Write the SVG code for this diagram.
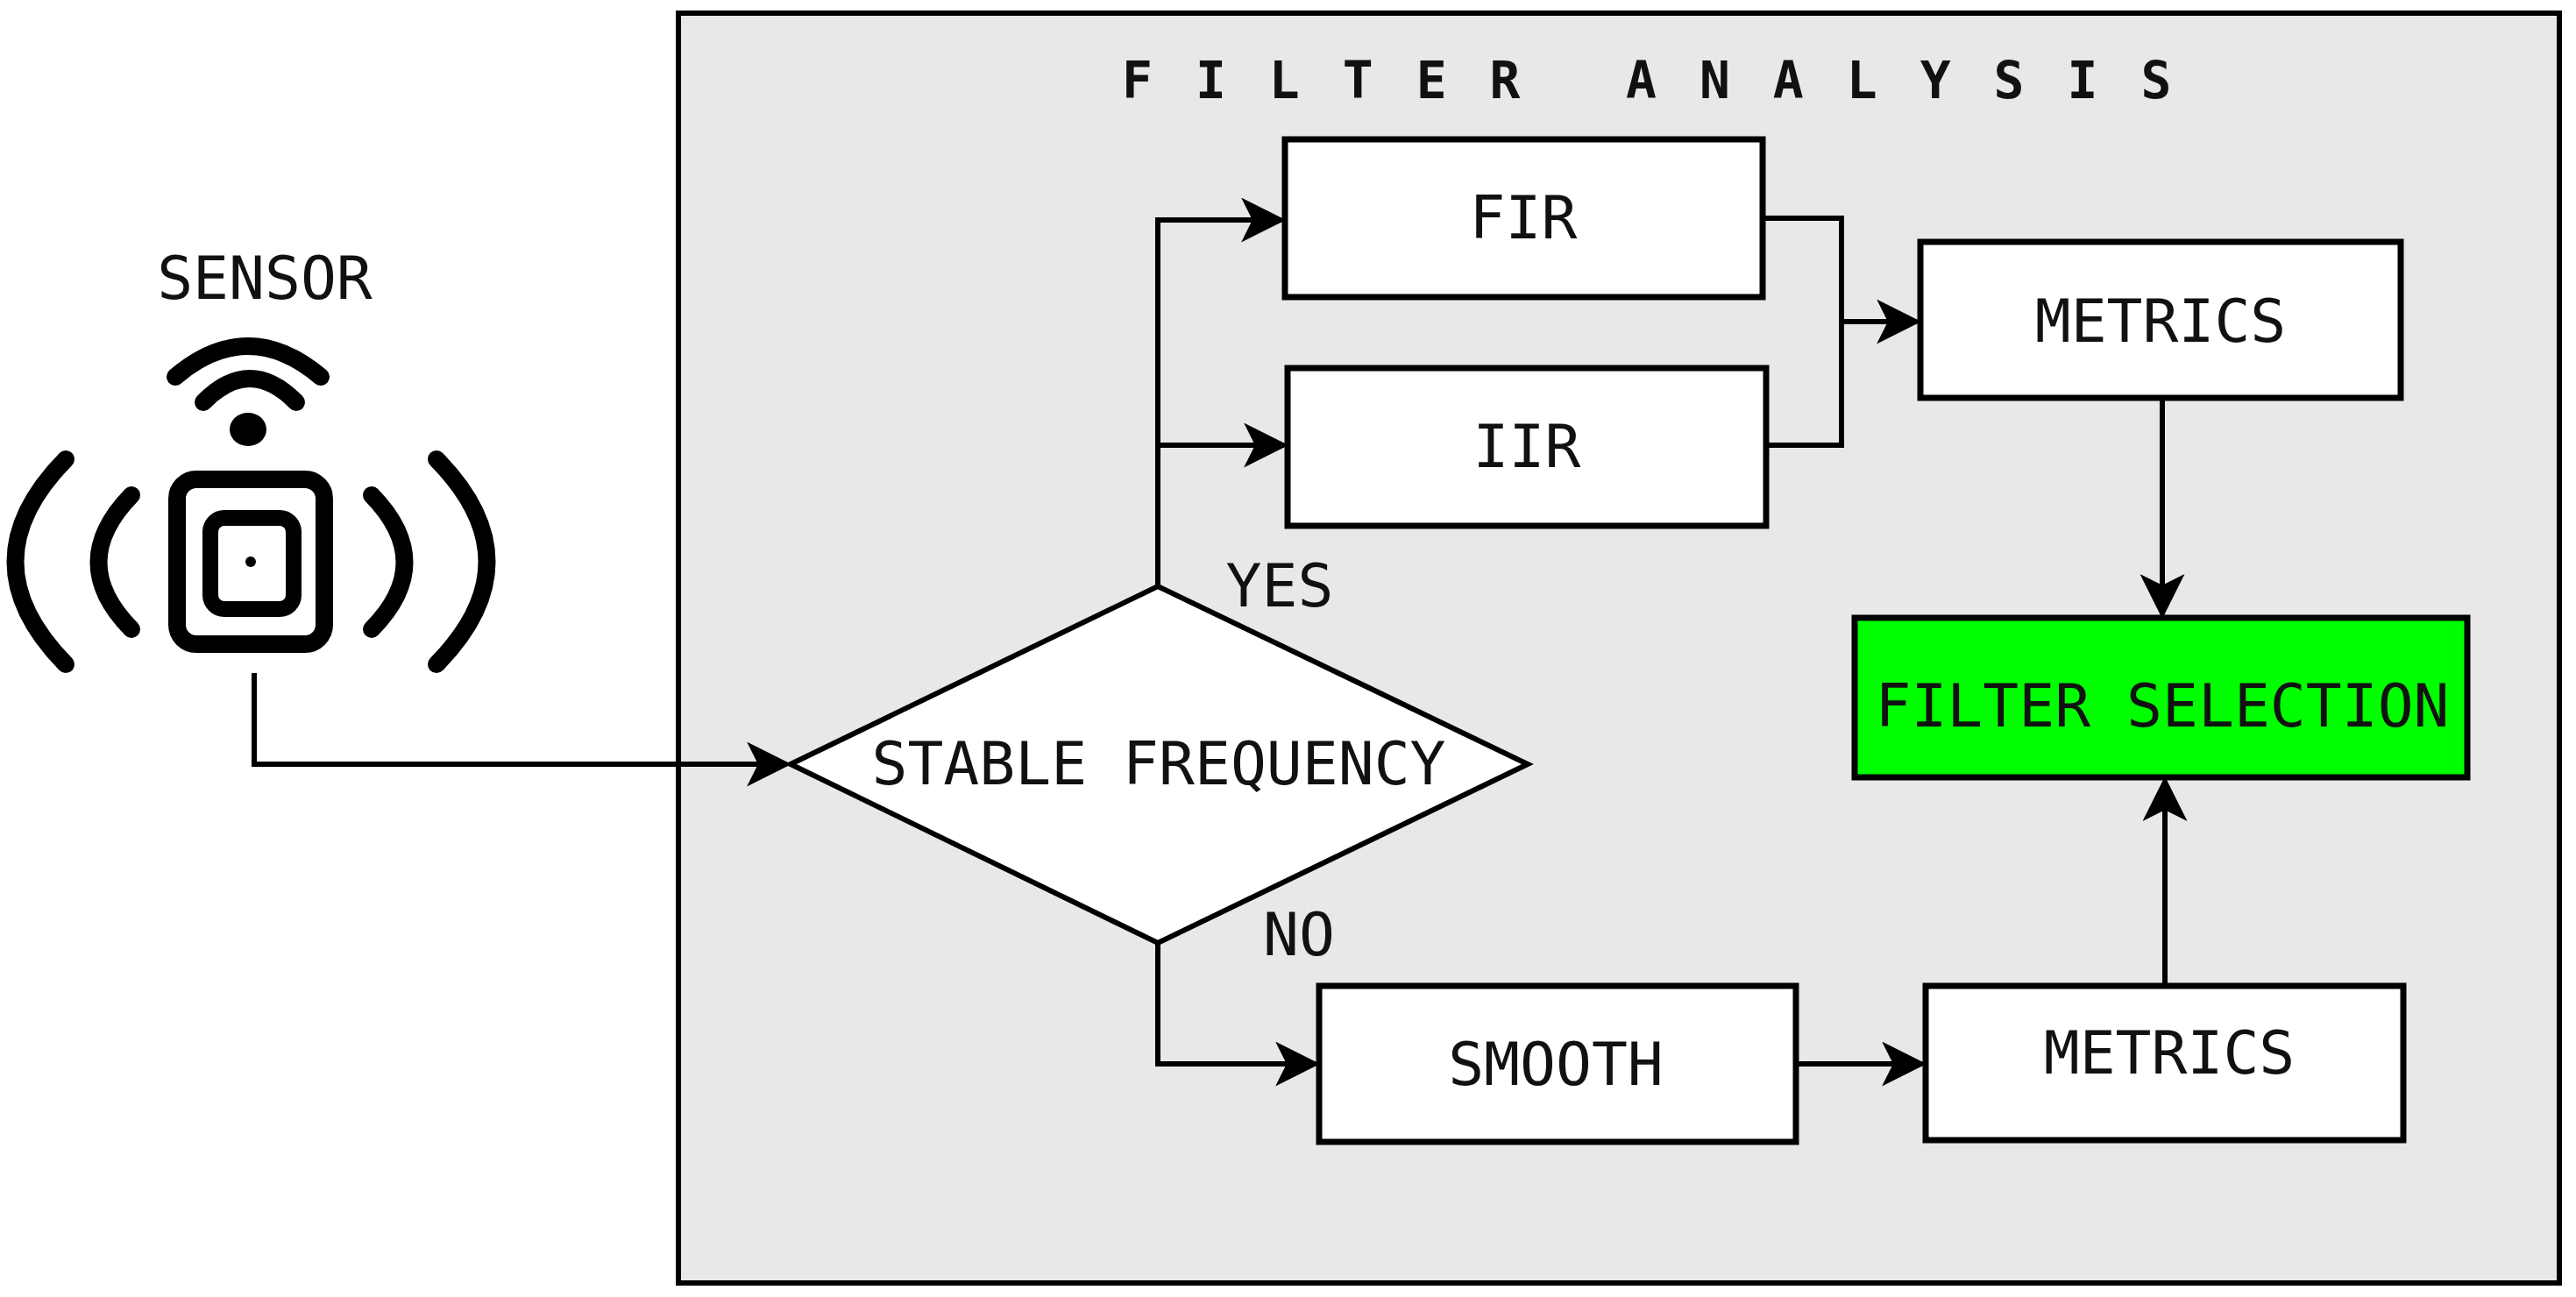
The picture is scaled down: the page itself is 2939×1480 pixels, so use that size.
<svg xmlns="http://www.w3.org/2000/svg" width="2939" height="1480" viewBox="0 0 2939 1480">
<style>
.box{fill:#fff;stroke:#000;stroke-width:7}
.t{font-family:"DejaVu Sans Mono","Liberation Mono",monospace;font-size:68px;fill:#111;text-anchor:middle}
.ttl{font-family:"DejaVu Sans Mono","Liberation Mono",monospace;font-size:58px;font-weight:bold;letter-spacing:49px;fill:#111}
.c{fill:none;stroke:#000;stroke-width:6}
.ic{fill:none;stroke:#000;stroke-width:20;stroke-linecap:round}
</style>
<defs>
<marker id="a" viewBox="0 0 20 20" refX="18" refY="10" markerWidth="8.5" markerHeight="8.5" markerUnits="strokeWidth" orient="auto">
<path d="M0,0 L20,10 L0,20 L5,10 Z" fill="#000"/>
</marker>
</defs>
<rect x="774" y="15" width="2146" height="1449" fill="#e8e8e8" stroke="#000" stroke-width="6"/>
<text class="ttl" x="1280" y="112">FILTER</text>
<text class="ttl" x="1855" y="112">ANALYSIS</text>

<g id="sensor">
<text class="t" x="302" y="341">SENSOR</text>
<rect x="202" y="547" width="168" height="188" rx="22" fill="none" stroke="#000" stroke-width="20"/>
<rect x="240" y="591" width="95" height="104" rx="16" fill="none" stroke="#000" stroke-width="18"/>
<circle cx="286" cy="641" r="6"/>
<ellipse cx="283" cy="490" rx="21" ry="19"/>
<path class="ic" d="M200,430 Q283,360 366,430"/>
<path class="ic" d="M232,459 Q285,405 338,459"/>
<path class="ic" d="M150,565 Q75,642 150,718"/>
<path class="ic" d="M75,524 Q-40,641 75,758"/>
<path class="ic" d="M424,565 Q499,642 424,718"/>
<path class="ic" d="M498,524 Q613,641 498,758"/>
</g>

<g id="connectors">
<path class="c" d="M290,768 V872 H898" marker-end="url(#a)"/>
<path class="c" d="M1321,669 V251 H1462" marker-end="url(#a)"/>
<path class="c" d="M1321,508 H1465" marker-end="url(#a)"/>
<path class="c" d="M2011,249 H2101 V508 H2015"/>
<path class="c" d="M2101,367 H2187" marker-end="url(#a)"/>
<path class="c" d="M2467,454 V701" marker-end="url(#a)"/>
<path class="c" d="M1321,1076 V1214 H1501" marker-end="url(#a)"/>
<path class="c" d="M2049,1214 H2193" marker-end="url(#a)"/>
<path class="c" d="M2470,1125 V891" marker-end="url(#a)"/>
</g>

<g id="decision"><polygon points="902,872 1321,669 1743,872 1321,1076" fill="#fff" stroke="#000" stroke-width="6"/><text class="t" x="1322" y="895">STABLE FREQUENCY</text></g>
<g id="yes"><text class="t" x="1460" y="692">YES</text></g>
<g id="no"><text class="t" x="1482" y="1090">NO</text></g>
<g id="fir"><rect class="box" x="1466" y="159" width="545" height="180"/><text class="t" x="1738" y="272">FIR</text></g>
<g id="iir"><rect class="box" x="1469" y="420" width="546" height="180"/><text class="t" x="1742" y="533">IIR</text></g>
<g id="metrics1"><rect class="box" x="2191" y="276" width="548" height="178"/><text class="t" x="2465" y="390">METRICS</text></g>
<g id="selection"><rect x="2116" y="705" width="699" height="182" fill="#00ff00" stroke="#000" stroke-width="7"/><text class="t" x="2467" y="829">FILTER SELECTION</text></g>
<g id="smooth"><rect class="box" x="1505" y="1125" width="544" height="178"/><text class="t" x="1775" y="1238">SMOOTH</text></g>
<g id="metrics2"><rect class="box" x="2197" y="1125" width="545" height="176"/><text class="t" x="2475" y="1225">METRICS</text></g>
</svg>
